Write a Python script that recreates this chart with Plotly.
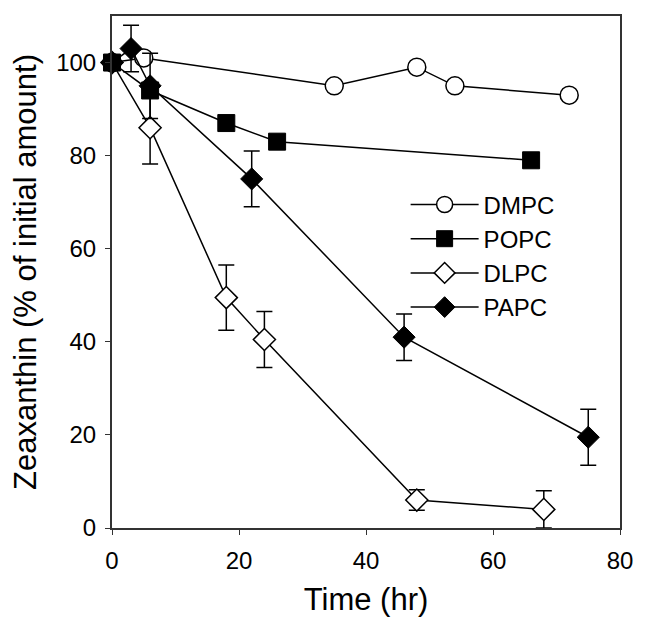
import plotly.graph_objects as go

# Data
dmpc_t = [0, 5, 35, 48, 54, 72]
dmpc_y = [100, 101, 95, 99, 95, 93]

popc_t = [0, 6, 18, 26, 66]
popc_y = [100, 94, 87, 83, 79]

dlpc_t = [0, 6, 18, 24, 48, 68]
dlpc_y = [100, 86, 49.5, 40.5, 6, 4]
dlpc_err = [0, 7.8, 7, 6, 2.2, 4]

papc_t = [0, 3, 6, 22, 46, 75]
papc_y = [100, 103, 95, 75, 41, 19.5]
papc_err = [0, 5, 7, 6, 5, 6]

x_ticks = [0, 20, 40, 60, 80]
y_ticks = [0, 20, 40, 60, 80, 100]

FONT = "Liberation Sans, Arial, sans-serif"
LINE = dict(color="black", width=1.5)

fig = go.Figure()

def err(vals):
    return dict(type="data", array=vals, visible=True, color="black",
                thickness=1.5, width=8)

fig.add_trace(go.Scatter(
    x=dmpc_t, y=dmpc_y, name="DMPC", mode="lines+markers", line=LINE,
    marker=dict(symbol="circle", size=18, color="white",
                line=dict(color="black", width=1.5)),
    cliponaxis=False))
fig.add_trace(go.Scatter(
    x=popc_t, y=popc_y, name="POPC", mode="lines+markers", line=LINE,
    marker=dict(symbol="square", size=17, color="black",
                line=dict(color="black", width=1)),
    cliponaxis=False))
fig.add_trace(go.Scatter(
    x=dlpc_t, y=dlpc_y, name="DLPC", mode="lines+markers", line=LINE,
    error_y=err(dlpc_err),
    marker=dict(symbol="diamond", size=17, color="white",
                line=dict(color="black", width=1.5)),
    cliponaxis=False))
fig.add_trace(go.Scatter(
    x=papc_t, y=papc_y, name="PAPC", mode="lines+markers", line=LINE,
    error_y=err(papc_err),
    marker=dict(symbol="diamond", size=17, color="black",
                line=dict(color="black", width=1)),
    cliponaxis=False))

axis_common = dict(
    showline=True, linecolor="#333", linewidth=2, mirror=True,
    ticks="outside", ticklen=5, tickwidth=1.2, tickcolor="#333",
    showgrid=False, zeroline=False,
    tickfont=dict(family=FONT, size=24, color="black"),
)

fig.update_xaxes(range=[0, 80], tickvals=x_ticks, ticklabelstandoff=5,
                 title=dict(text="Time (hr)", font=dict(family=FONT, size=31, color="black"),
                            standoff=16),
                 **axis_common)
fig.update_yaxes(range=[0, 110], tickvals=y_ticks, ticklabelstandoff=4,
                 title=dict(text="Zeaxanthin (% of initial amount)",
                            font=dict(family=FONT, size=31, color="black"),
                            standoff=12),
                 **axis_common)

# page body has an 8px default margin; figure sized to fit the 647x631 window
fig.update_layout(
    width=631, height=615,
    margin=dict(l=104, r=15, t=6, b=95),
    plot_bgcolor="white", paper_bgcolor="white",
    font=dict(family=FONT, color="black"),
    legend=dict(x=0.578, y=0.675, xanchor="left", yanchor="top",
                bgcolor="rgba(0,0,0,0)", itemwidth=68,
                font=dict(family=FONT, size=24, color="black"),
                tracegroupgap=0),
    showlegend=True,
)

fig.write_html("out.html")
